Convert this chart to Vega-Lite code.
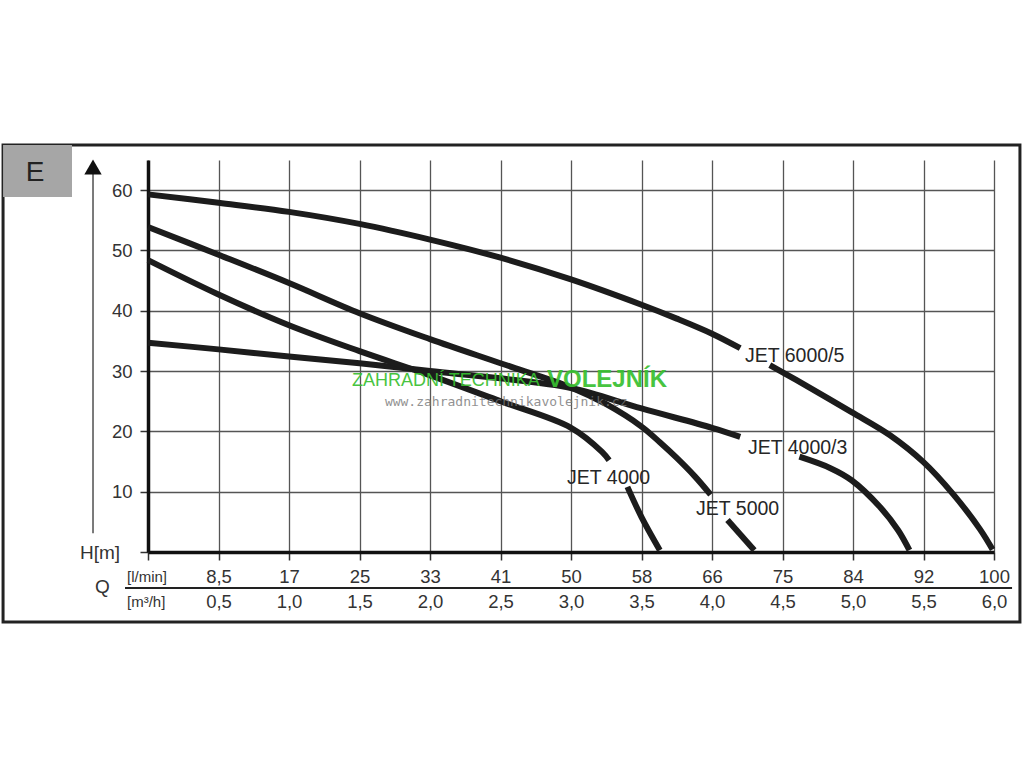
{
  "$schema": "https://vega.github.io/schema/vega-lite/v6.json",
  "width": 846,
  "height": 392,
  "autosize": {"type": "none"},
  "padding": {"left": 148, "top": 160, "right": 30, "bottom": 216},
  "background": "white",
  "config": {"view": {"stroke": null}, "font": "Liberation Sans"},
  "datasets": {
    "curves": [
      {"pump": "JET 6000/5", "seg": "6000-1", "Q": 0, "H": 59.3},
      {"pump": "JET 6000/5", "seg": "6000-1", "Q": 0.5, "H": 57.9},
      {"pump": "JET 6000/5", "seg": "6000-1", "Q": 1.0, "H": 56.4},
      {"pump": "JET 6000/5", "seg": "6000-1", "Q": 1.5, "H": 54.4},
      {"pump": "JET 6000/5", "seg": "6000-1", "Q": 2.0, "H": 51.8},
      {"pump": "JET 6000/5", "seg": "6000-1", "Q": 2.5, "H": 48.8},
      {"pump": "JET 6000/5", "seg": "6000-1", "Q": 3.0, "H": 45.2},
      {"pump": "JET 6000/5", "seg": "6000-1", "Q": 3.5, "H": 41.0},
      {"pump": "JET 6000/5", "seg": "6000-1", "Q": 3.75, "H": 38.7},
      {"pump": "JET 6000/5", "seg": "6000-1", "Q": 4.0, "H": 36.2},
      {"pump": "JET 6000/5", "seg": "6000-1", "Q": 4.2, "H": 33.8},
      {"pump": "JET 6000/5", "seg": "6000-2", "Q": 4.41, "H": 31.0},
      {"pump": "JET 6000/5", "seg": "6000-2", "Q": 4.6, "H": 28.5},
      {"pump": "JET 6000/5", "seg": "6000-2", "Q": 4.99, "H": 23.2},
      {"pump": "JET 6000/5", "seg": "6000-2", "Q": 5.26, "H": 19.4},
      {"pump": "JET 6000/5", "seg": "6000-2", "Q": 5.5, "H": 14.9},
      {"pump": "JET 6000/5", "seg": "6000-2", "Q": 5.71, "H": 9.6},
      {"pump": "JET 6000/5", "seg": "6000-2", "Q": 5.9, "H": 3.8},
      {"pump": "JET 6000/5", "seg": "6000-2", "Q": 5.99, "H": 0.4},
      {"pump": "JET 4000/3", "seg": "4003-1", "Q": 0, "H": 34.7},
      {"pump": "JET 4000/3", "seg": "4003-1", "Q": 0.5, "H": 33.6},
      {"pump": "JET 4000/3", "seg": "4003-1", "Q": 1.0, "H": 32.4},
      {"pump": "JET 4000/3", "seg": "4003-1", "Q": 1.5, "H": 31.3},
      {"pump": "JET 4000/3", "seg": "4003-1", "Q": 2.0, "H": 30.0},
      {"pump": "JET 4000/3", "seg": "4003-1", "Q": 2.5, "H": 28.8},
      {"pump": "JET 4000/3", "seg": "4003-1", "Q": 3.0, "H": 27.2},
      {"pump": "JET 4000/3", "seg": "4003-1", "Q": 3.5, "H": 23.8},
      {"pump": "JET 4000/3", "seg": "4003-1", "Q": 4.0, "H": 20.6},
      {"pump": "JET 4000/3", "seg": "4003-1", "Q": 4.2, "H": 19.1},
      {"pump": "JET 4000/3", "seg": "4003-2", "Q": 4.62, "H": 15.8},
      {"pump": "JET 4000/3", "seg": "4003-2", "Q": 4.84, "H": 13.9},
      {"pump": "JET 4000/3", "seg": "4003-2", "Q": 4.99, "H": 11.9},
      {"pump": "JET 4000/3", "seg": "4003-2", "Q": 5.19, "H": 7.5},
      {"pump": "JET 4000/3", "seg": "4003-2", "Q": 5.32, "H": 3.6},
      {"pump": "JET 4000/3", "seg": "4003-2", "Q": 5.4, "H": 0.3},
      {"pump": "JET 5000", "seg": "5000-1", "Q": 0, "H": 53.9},
      {"pump": "JET 5000", "seg": "5000-1", "Q": 0.5, "H": 49.3},
      {"pump": "JET 5000", "seg": "5000-1", "Q": 1.0, "H": 44.6},
      {"pump": "JET 5000", "seg": "5000-1", "Q": 1.5, "H": 39.6},
      {"pump": "JET 5000", "seg": "5000-1", "Q": 2.0, "H": 35.3},
      {"pump": "JET 5000", "seg": "5000-1", "Q": 2.5, "H": 31.3},
      {"pump": "JET 5000", "seg": "5000-1", "Q": 3.0, "H": 27.3},
      {"pump": "JET 5000", "seg": "5000-1", "Q": 3.25, "H": 24.5},
      {"pump": "JET 5000", "seg": "5000-1", "Q": 3.5, "H": 20.8},
      {"pump": "JET 5000", "seg": "5000-1", "Q": 3.63, "H": 18.2},
      {"pump": "JET 5000", "seg": "5000-1", "Q": 3.75, "H": 15.6},
      {"pump": "JET 5000", "seg": "5000-1", "Q": 3.88, "H": 12.5},
      {"pump": "JET 5000", "seg": "5000-1", "Q": 3.99, "H": 9.5},
      {"pump": "JET 5000", "seg": "5000-2", "Q": 4.11, "H": 5.3},
      {"pump": "JET 5000", "seg": "5000-2", "Q": 4.3, "H": 0.3},
      {"pump": "JET 4000", "seg": "4000-1", "Q": 0, "H": 48.4},
      {"pump": "JET 4000", "seg": "4000-1", "Q": 0.5, "H": 42.7},
      {"pump": "JET 4000", "seg": "4000-1", "Q": 1.0, "H": 37.6},
      {"pump": "JET 4000", "seg": "4000-1", "Q": 1.5, "H": 33.3},
      {"pump": "JET 4000", "seg": "4000-1", "Q": 2.0, "H": 29.3},
      {"pump": "JET 4000", "seg": "4000-1", "Q": 2.5, "H": 25.0},
      {"pump": "JET 4000", "seg": "4000-1", "Q": 3.0, "H": 20.6},
      {"pump": "JET 4000", "seg": "4000-1", "Q": 3.22, "H": 16.6},
      {"pump": "JET 4000", "seg": "4000-1", "Q": 3.27, "H": 15.2},
      {"pump": "JET 4000", "seg": "4000-2", "Q": 3.4, "H": 10.8},
      {"pump": "JET 4000", "seg": "4000-2", "Q": 3.5, "H": 5.8},
      {"pump": "JET 4000", "seg": "4000-2", "Q": 3.63, "H": 0.3}
    ],
    "labels": [
      {"text": "JET 6000/5", "Q": 4.234, "H": 32.5},
      {"text": "JET 4000/3", "Q": 4.255, "H": 17.2},
      {"text": "JET 4000", "Q": 2.972, "H": 12.3},
      {"text": "JET 5000", "Q": 3.887, "H": 7.1}
    ],
    "one": [{"k": 1}]
  },
  "layer": [
    {
      "data": {"name": "curves"},
      "mark": {"type": "line", "strokeWidth": 6, "color": "#1c1c1c", "interpolate": "catmull-rom", "strokeCap": "butt", "clip": false},
      "encoding": {
        "x": {
          "field": "Q", "type": "quantitative",
          "scale": {"domain": [0, 6], "nice": false, "zero": false},
          "axis": {
            "orient": "bottom", "title": null,
            "values": [0, 0.5, 1, 1.5, 2, 2.5, 3, 3.5, 4, 4.5, 5, 5.5, 6],
            "grid": true, "gridColor": "#555", "gridWidth": 1.3, "gridOpacity": 1,
            "tickSize": 8, "tickColor": "#333", "tickWidth": 1.5,
            "domain": true, "domainColor": "#111", "domainWidth": 3.5,
            "labelExpr": "datum.value == 0 ? '' : [['','8,5','17','25','33','41','50','58','66','75','84','92','100'][round(datum.value*2)], replace(format(datum.value, '.1f'), '.', ',')]",
            "labelFontSize": 18.5, "labelColor": "#333", "labelPadding": 7,
            "labelLineHeight": 25, "labelFlush": false, "labelOverlap": false,
            "labelBaseline": "top"
          }
        },
        "y": {
          "field": "H", "type": "quantitative",
          "scale": {"domain": [0, 65], "nice": false, "zero": false},
          "axis": {
            "orient": "left", "title": null,
            "values": [0, 5, 10, 15, 20, 25, 30, 35, 40, 45, 50, 55, 60, 65],
            "grid": true, "gridColor": "#555", "gridWidth": 1.3, "gridOpacity": 1,
            "tickSize": 8, "tickColor": "#333", "tickWidth": 1.5,
            "domain": true, "domainColor": "#111", "domainWidth": 3.5,
            "labelExpr": "(datum.value % 10 == 0 && datum.value > 0 && datum.value < 65) ? datum.label : ''",
            "labelFontSize": 18.5, "labelColor": "#333", "labelPadding": 8,
            "labelFlush": false, "labelOverlap": false
          }
        },
        "detail": {"field": "seg", "type": "nominal"}
      }
    },
    {
      "data": {"name": "labels"},
      "mark": {"type": "text", "align": "left", "baseline": "middle", "fontSize": 19.5, "color": "#262626", "clip": false},
      "encoding": {
        "x": {"field": "Q", "type": "quantitative", "scale": {"domain": [0, 6], "nice": false, "zero": false}},
        "y": {"field": "H", "type": "quantitative", "scale": {"domain": [0, 65], "nice": false, "zero": false}},
        "text": {"field": "text", "type": "nominal"}
      }
    },
    {
      "data": {"values": [
        {"text": "ZAHRADNÍ TECHNIKA", "Q": 1.447, "H": 28.3}
      ]},
      "mark": {"type": "text", "align": "left", "baseline": "middle", "fontSize": 18, "color": "#38c030", "opacity": 0.92, "clip": false},
      "encoding": {
        "x": {"field": "Q", "type": "quantitative"},
        "y": {"field": "H", "type": "quantitative"},
        "text": {"field": "text", "type": "nominal"}
      }
    },
    {
      "data": {"values": [
        {"text": "VOLEJNÍK", "Q": 2.83, "H": 28.6}
      ]},
      "mark": {"type": "text", "align": "left", "baseline": "middle", "fontSize": 24, "fontWeight": "bold", "color": "#38c030", "opacity": 0.92, "clip": false},
      "encoding": {
        "x": {"field": "Q", "type": "quantitative"},
        "y": {"field": "H", "type": "quantitative"},
        "text": {"field": "text", "type": "nominal"}
      }
    },
    {
      "data": {"values": [
        {"text": "www.zahradnitechnikavolejnik.cz", "Q": 1.68, "H": 24.9}
      ]},
      "mark": {"type": "text", "align": "left", "baseline": "middle", "fontSize": 13, "font": "DejaVu Sans Mono", "color": "#777", "opacity": 0.8, "clip": false},
      "encoding": {
        "x": {"field": "Q", "type": "quantitative"},
        "y": {"field": "H", "type": "quantitative"},
        "text": {"field": "text", "type": "nominal"}
      }
    },
    {
      "data": {"name": "one"},
      "mark": {"type": "rect", "fillOpacity": 0, "stroke": "#222", "strokeWidth": 3, "clip": false},
      "encoding": {
        "x": {"datum": -1.028, "type": "quantitative"},
        "x2": {"datum": 6.184},
        "y": {"datum": 67.5, "type": "quantitative"},
        "y2": {"datum": -11.6}
      }
    },
    {
      "data": {"name": "one"},
      "mark": {"type": "rect", "fill": "#a6a6a6", "clip": false},
      "encoding": {
        "x": {"datum": -1.028, "type": "quantitative"},
        "x2": {"datum": -0.539},
        "y": {"datum": 67.5, "type": "quantitative"},
        "y2": {"datum": 58.86}
      }
    },
    {
      "data": {"name": "one"},
      "mark": {"type": "text", "text": "E", "fontSize": 28, "color": "#222", "align": "center", "baseline": "middle", "clip": false},
      "encoding": {
        "x": {"datum": -0.801, "type": "quantitative"},
        "y": {"datum": 62.9, "type": "quantitative"}
      }
    },
    {
      "data": {"name": "one"},
      "mark": {"type": "rule", "color": "#333", "strokeWidth": 1.3, "clip": false},
      "encoding": {
        "x": {"datum": -0.39, "type": "quantitative"},
        "y": {"datum": 3.1, "type": "quantitative"},
        "y2": {"datum": 63.5}
      }
    },
    {
      "data": {"name": "one"},
      "mark": {"type": "point", "shape": "triangle-up", "filled": true, "color": "#111", "size": 300, "opacity": 1, "clip": false},
      "encoding": {
        "x": {"datum": -0.39, "type": "quantitative"},
        "y": {"datum": 63.84, "type": "quantitative"}
      }
    },
    {
      "data": {"name": "one"},
      "mark": {"type": "rule", "color": "#222", "strokeWidth": 2, "clip": false},
      "encoding": {
        "x": {"datum": -0.163, "type": "quantitative"},
        "x2": {"datum": 6.128},
        "y": {"datum": -5.97, "type": "quantitative"}
      }
    },
    {
      "data": {"values": [
        {"text": "H[m]", "Q": -0.34, "H": -0.15},
        {"text": "Q", "Q": -0.323, "H": -5.8}
      ]},
      "mark": {"type": "text", "align": "center", "baseline": "middle", "fontSize": 19, "color": "#333", "clip": false},
      "encoding": {
        "x": {"field": "Q", "type": "quantitative"},
        "y": {"field": "H", "type": "quantitative"},
        "text": {"field": "text", "type": "nominal"}
      }
    },
    {
      "data": {"values": [
        {"text": "[l/min]", "Q": -0.149, "H": -4.15},
        {"text": "[m³/h]", "Q": -0.149, "H": -8.29}
      ]},
      "mark": {"type": "text", "align": "left", "baseline": "middle", "fontSize": 15, "color": "#333", "clip": false},
      "encoding": {
        "x": {"field": "Q", "type": "quantitative"},
        "y": {"field": "H", "type": "quantitative"},
        "text": {"field": "text", "type": "nominal"}
      }
    }
  ]
}
